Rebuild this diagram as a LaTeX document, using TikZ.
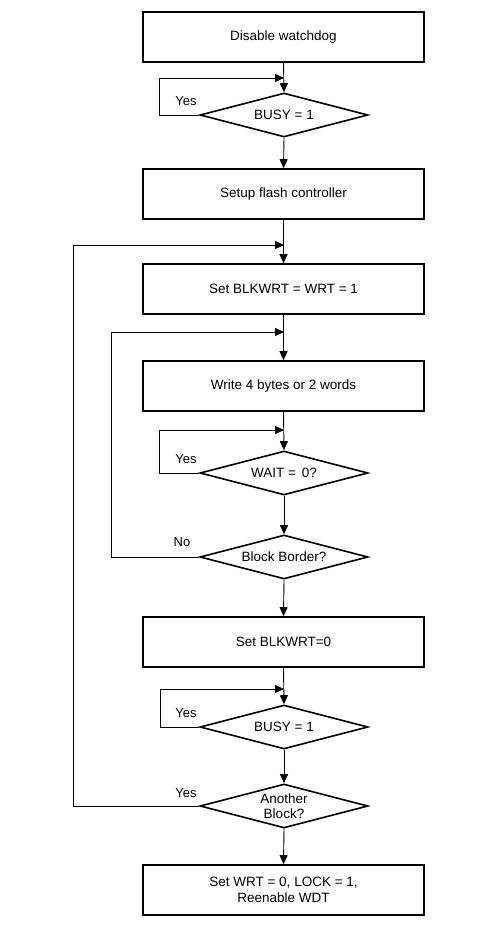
\documentclass[tikz,border=0pt]{standalone}
\usepackage{fontspec}
\setmainfont{Liberation Sans}
\usetikzlibrary{shapes.geometric,arrows.meta}
\begin{document}
\begin{tikzpicture}[x=1pt,y=-1pt,
  stepbox/.style={draw=black,line width=1.6pt,minimum width=281pt,minimum height=50pt,inner sep=0pt,font=\fontsize{13.5}{15.5}\selectfont,align=center},
  decision/.style={draw=black,line width=1.6pt,shape=diamond,aspect=3.8,minimum width=168pt,minimum height=44pt,inner sep=0pt,font=\fontsize{13.5}{15.5}\selectfont,align=center},
  conn/.style={line width=0.9pt,-{Triangle[length=9pt,width=8pt]}},
  plain/.style={line width=0.9pt},
  lbl/.style={font=\fontsize{13}{15}\selectfont,inner sep=0pt}]
\useasboundingbox (0,0) rectangle (477,933);
\fill[white] (0,0) rectangle (477,933);

\node[stepbox] (b1) at (283.5,37) {Disable watchdog};
\node[decision] (d1) at (284,115) {BUSY = 1};
\node[stepbox] (b2) at (283.5,194) {Setup flash controller};
\node[stepbox] (b3) at (283.5,289) {Set BLKWRT = WRT = 1};
\node[stepbox] (b4) at (283.5,386) {Write 4 bytes or 2 words};
\node[decision] (d2) at (284,473) {WAIT = \,0?};
\node[decision] (d3) at (284,557) {Block Border?};
\node[stepbox] (b5) at (283.5,642) {Set BLKWRT=0};
\node[decision] (d4) at (284,727) {BUSY = 1};
\node[decision] (d5) at (284,806) {Another\\Block?};
\node[stepbox] (b6) at (283.5,890) {Set WRT = 0, LOCK = 1,\\Reenable WDT};

\coordinate (j1) at (284,78);
\coordinate (j2) at (284,245);
\coordinate (j3) at (284,332);
\coordinate (j4) at (284,430);
\coordinate (j5) at (284,689);

\draw[conn] (b1.south) -- (d1.north);
\draw[conn] (d1.south) -- (b2.north);
\draw[conn] (b2.south) -- (b3.north);
\draw[conn] (b3.south) -- (b4.north);
\draw[conn] (b4.south) -- (d2.north);
\draw[conn] (d2.south) -- (d3.north);
\draw[conn] (d3.south) -- (b5.north);
\draw[conn] (b5.south) -- (d4.north);
\draw[conn] (d4.south) -- (d5.north);
\draw[conn] (d5.south) -- (b6.north);

\draw[conn] (d1.west) -- (159,115) -- (159,78) -- (j1);
\draw[conn] (d2.west) -- (159,473) -- (159,430) -- (j4);
\draw[conn] (d3.west) -- (111,557) -- (111,332) -- (j3);
\draw[conn] (d4.west) -- (160,727) -- (160,689) -- (j5);
\draw[conn] (d5.west) -- (73,806) -- (73,245) -- (j2);

\node[lbl] (y1) at (186,101) {Yes};
\node[lbl] (y2) at (186,459) {Yes};
\node[lbl] (n3) at (182,542) {No};
\node[lbl] (y4) at (186,713) {Yes};
\node[lbl] (y5) at (186,793) {Yes};
\end{tikzpicture}
\end{document}
